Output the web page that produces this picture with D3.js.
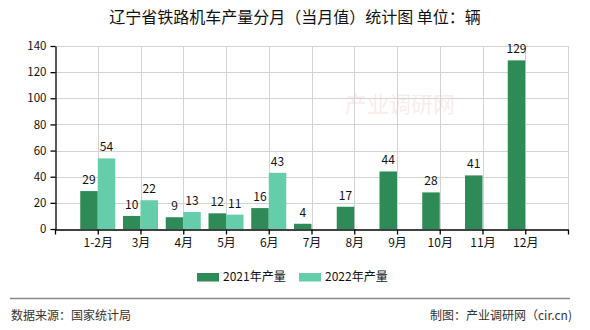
<!DOCTYPE html>
<html>
<head>
<meta charset="utf-8">
<script src="https://cdn.jsdelivr.net/npm/d3@7"></script>
<style>
  html, body { margin: 0; padding: 0; background: #fff; }
  svg { display: block; }
  text { font-family: "Noto Sans CJK SC", "Noto Sans", sans-serif; }
</style>
</head>
<body>
<svg id="chart" width="590" height="330"></svg>
<script>
// Monthly locomotive output, Liaoning (units)
const months = ["1-2月", "3月", "4月", "5月", "6月", "7月", "8月", "9月", "10月", "11月", "12月"];
const values2021 = [29, 10, 9, 12, 16, 4, 17, 44, 28, 41, 129];
const values2022 = [54, 22, 13, 11, 43, null, null, null, null, null, null];
const seriesNames = ["2021年产量", "2022年产量"];
const seriesColors = ["#2e8b57", "#66cdaa"];
const yTicks = [0, 20, 40, 60, 80, 100, 120, 140];

const svg = d3.select("#chart");
const plotLeft = 55, plotRight = 568, plotTop = 46, plotBottom = 229;

// Category labels sit on tick positions; two padding slots at the ends
const slots = ["__start", ...months, "__end"];
const x = d3.scalePoint().domain(slots).range([plotLeft, plotRight]);
const y = d3.scaleLinear().domain([0, 140]).range([plotBottom, plotTop]);
const barW = 17.5;

// Title
svg.append("text")
  .attr("x", 295).attr("y", 23)
  .attr("text-anchor", "middle")
  .attr("font-size", 16)
  .attr("fill", "#111")
  .text("辽宁省铁路机车产量分月（当月值）统计图 单位：辆");

// Faint watermark
svg.append("text")
  .attr("x", 400).attr("y", 112)
  .attr("text-anchor", "middle")
  .attr("font-size", 22)
  .attr("fill", "#f3d6d2")
  .attr("opacity", 0.45)
  .text("产业调研网");

// Grid
const grid = svg.append("g").attr("stroke", "#d3d3d3").attr("stroke-width", 1);
grid.selectAll("line.h").data(yTicks.filter(t => t > 0)).join("line")
  .attr("x1", plotLeft).attr("x2", plotRight)
  .attr("y1", d => Math.round(y(d)) + 0.5).attr("y2", d => Math.round(y(d)) + 0.5);
grid.selectAll("line.v").data(slots.slice(1)).join("line")
  .attr("x1", d => Math.round(x(d)) + 0.5).attr("x2", d => Math.round(x(d)) + 0.5)
  .attr("y1", plotTop).attr("y2", plotBottom);

// Bars
const groups = [values2021, values2022];
groups.forEach((vals, s) => {
  const data = months.map((m, i) => ({ m, v: vals[i] })).filter(d => d.v != null);
  svg.append("g").selectAll("rect").data(data).join("rect")
    .attr("x", d => x(d.m) + (s === 0 ? -barW : 0))
    .attr("y", d => y(d.v))
    .attr("width", barW)
    .attr("height", d => y(0) - y(d.v))
    .attr("fill", seriesColors[s]);
  svg.append("g").selectAll("text").data(data).join("text")
    .attr("x", d => x(d.m) + (s === 0 ? -barW / 2 : barW / 2))
    .attr("y", d => y(d.v) - 7)
    .attr("text-anchor", "middle")
    .attr("font-size", 12)
    .attr("fill", "#111")
    .text(d => d.v);
});

// Axes
const yAxis = svg.append("g")
  .attr("transform", `translate(${plotLeft + 0.5},0)`)
  .call(d3.axisLeft(y).tickValues(yTicks).tickSize(5).tickSizeOuter(0).tickPadding(4));
const xAxis = svg.append("g")
  .attr("transform", `translate(0,${plotBottom + 0.5})`)
  .call(d3.axisBottom(x).tickValues(slots).tickSize(5).tickSizeOuter(0).tickPadding(4)
    .tickFormat(d => d.startsWith("__") ? "" : d));
[yAxis, xAxis].forEach(a => {
  a.selectAll("path, line").attr("stroke", "#000").attr("stroke-width", 1.3);
  a.selectAll("text").attr("font-size", 12).attr("fill", "#111")
    .attr("font-family", "\"Noto Sans CJK SC\", sans-serif");
});
yAxis.selectAll("text").attr("font-size", 11.5);

// Legend
const legend = svg.append("g");
const legendX = [197, 299];
seriesNames.forEach((name, i) => {
  legend.append("rect")
    .attr("x", legendX[i]).attr("y", 273)
    .attr("width", 22).attr("height", 8.5)
    .attr("fill", seriesColors[i]);
  legend.append("text")
    .attr("x", legendX[i] + 26).attr("y", 281)
    .attr("font-size", 12).attr("fill", "#111")
    .text(name);
});

// Footer
svg.append("line")
  .attr("x1", 10).attr("x2", 570).attr("y1", 298.5).attr("y2", 298.5)
  .attr("stroke", "#888").attr("stroke-width", 1.5);
svg.append("text")
  .attr("x", 11).attr("y", 320)
  .attr("font-size", 12).attr("fill", "#333")
  .text("数据来源：国家统计局");
svg.append("text")
  .attr("x", 572).attr("y", 320)
  .attr("text-anchor", "end")
  .attr("font-size", 12).attr("fill", "#333")
  .text("制图：产业调研网（cir.cn)");
</script>
</body>
</html>
